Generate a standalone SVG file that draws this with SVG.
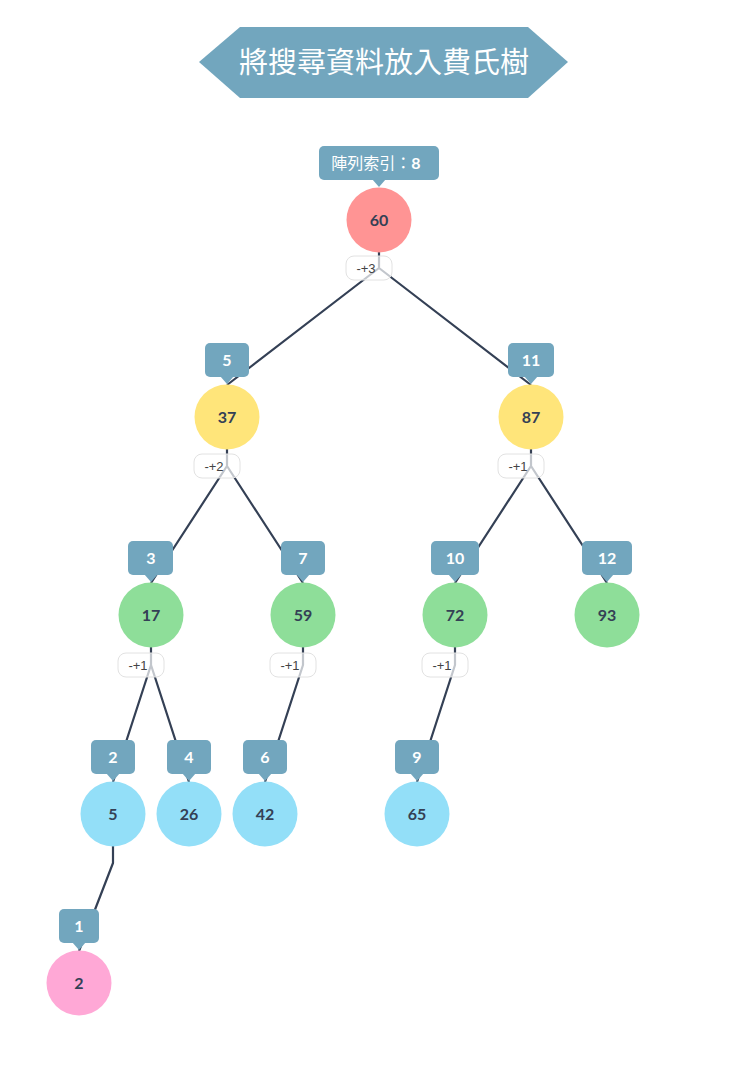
<svg xmlns="http://www.w3.org/2000/svg" width="736" height="1068" viewBox="0 0 736 1068">
<style>
.edge{fill:none;stroke:#344055;stroke-width:2.2;stroke-linejoin:round}
.nv{font-family:Lato,"Noto Sans",sans-serif;font-weight:bold;font-size:16px;fill:#344055;text-anchor:middle}
.tag{fill:#72A6BE}
.tt{font-family:Lato,"Noto Sans","Noto Sans CJK TC",sans-serif;font-weight:bold;font-size:16px;fill:#fff;text-anchor:middle}
.el{fill:#fff;fill-opacity:0.7;stroke:#e2e2e2;stroke-width:1}
.et{font-family:"Liberation Sans",Arial,sans-serif;font-size:13px;fill:#444;text-anchor:middle}
.red{fill:#FF9494}.yel{fill:#FFE57A}.grn{fill:#8EDE99}.blu{fill:#93DFF8}.pnk{fill:#FFA8D6}
</style>
<g id="title">
<polygon points="199,62 240,27 528,27 568,62 528,98 240,98" fill="#72A6BE"/>
<text x="384" y="73" font-family="'Noto Sans CJK TC','Noto Sans CJK SC',sans-serif" font-size="29" fill="#fff" text-anchor="middle">將搜尋資料放入費氏樹</text>
</g>
<g id="connectors">
<path class="edge" d="M379,252 V268 L227,385 M379,268 L531,385"/>
<path class="edge" d="M227,449 V466 L151,583 M227,466 L303,583"/>
<path class="edge" d="M531,449 V466 L455,583 M531,466 L607,583"/>
<path class="edge" d="M151,647 V665 L113,782 M151,665 L189,782"/>
<path class="edge" d="M303,647 V665 L265,782"/>
<path class="edge" d="M455,647 V665 L417,782"/>
<path class="edge" d="M113,846 V863 L79,951"/>
</g>
<g id="edge-labels">
<rect class="el" x="346" y="256" width="46" height="24" rx="8"/><text class="et" x="366" y="273">-+3</text>
<rect class="el" x="194" y="454" width="46" height="24" rx="8"/><text class="et" x="214" y="471">-+2</text>
<rect class="el" x="498" y="454" width="46" height="24" rx="8"/><text class="et" x="518" y="471">-+1</text>
<rect class="el" x="118" y="653" width="46" height="24" rx="8"/><text class="et" x="138" y="670">-+1</text>
<rect class="el" x="270" y="653" width="46" height="24" rx="8"/><text class="et" x="290" y="670">-+1</text>
<rect class="el" x="422" y="653" width="46" height="24" rx="8"/><text class="et" x="442" y="670">-+1</text>
</g>
<g id="n60"><circle class="red" cx="379" cy="220" r="32.5"/><text class="nv" x="379" y="226">60</text>
<rect class="tag" x="319" y="146" width="120" height="34" rx="5"/><polygon class="tag" points="372,179 386,179 379,187"/><text x="376" y="169" font-family="'Noto Sans CJK TC','Noto Sans CJK SC',sans-serif" font-size="16" fill="#fff" text-anchor="middle">陣列索引：<tspan font-family="Lato,'Noto Sans',sans-serif" font-weight="bold">8</tspan></text></g>
<g id="n37"><circle class="yel" cx="227" cy="417" r="32.5"/><text class="nv" x="227" y="423">37</text>
<rect class="tag" x="205" y="343" width="44" height="34" rx="5"/><polygon class="tag" points="220,376 234,376 227,384"/><text class="tt" x="227" y="366">5</text></g>
<g id="n87"><circle class="yel" cx="531" cy="417" r="32.5"/><text class="nv" x="531" y="423">87</text>
<rect class="tag" x="508" y="343" width="46" height="34" rx="5"/><polygon class="tag" points="524,376 538,376 531,384"/><text class="tt" x="531" y="366">11</text></g>
<g id="n17"><circle class="grn" cx="151" cy="615" r="32.5"/><text class="nv" x="151" y="621">17</text>
<rect class="tag" x="128" y="541" width="45" height="34" rx="5"/><polygon class="tag" points="144,574 158,574 151,582"/><text class="tt" x="151" y="564">3</text></g>
<g id="n59"><circle class="grn" cx="303" cy="615" r="32.5"/><text class="nv" x="303" y="621">59</text>
<rect class="tag" x="281" y="541" width="44" height="34" rx="5"/><polygon class="tag" points="296,574 310,574 303,582"/><text class="tt" x="303" y="564">7</text></g>
<g id="n72"><circle class="grn" cx="455" cy="615" r="32.5"/><text class="nv" x="455" y="621">72</text>
<rect class="tag" x="431" y="541" width="48" height="34" rx="5"/><polygon class="tag" points="448,574 462,574 455,582"/><text class="tt" x="455" y="564">10</text></g>
<g id="n93"><circle class="grn" cx="607" cy="615" r="32.5"/><text class="nv" x="607" y="621">93</text>
<rect class="tag" x="582" y="541" width="50" height="34" rx="5"/><polygon class="tag" points="600,574 614,574 607,582"/><text class="tt" x="607" y="564">12</text></g>
<g id="n5"><circle class="blu" cx="113" cy="814" r="32.5"/><text class="nv" x="113" y="820">5</text>
<rect class="tag" x="91" y="740" width="44" height="34" rx="5"/><polygon class="tag" points="106,773 120,773 113,781"/><text class="tt" x="113" y="763">2</text></g>
<g id="n26"><circle class="blu" cx="189" cy="814" r="32.5"/><text class="nv" x="189" y="820">26</text>
<rect class="tag" x="167" y="740" width="44" height="34" rx="5"/><polygon class="tag" points="182,773 196,773 189,781"/><text class="tt" x="189" y="763">4</text></g>
<g id="n42"><circle class="blu" cx="265" cy="814" r="32.5"/><text class="nv" x="265" y="820">42</text>
<rect class="tag" x="243" y="740" width="44" height="34" rx="5"/><polygon class="tag" points="258,773 272,773 265,781"/><text class="tt" x="265" y="763">6</text></g>
<g id="n65"><circle class="blu" cx="417" cy="814" r="32.5"/><text class="nv" x="417" y="820">65</text>
<rect class="tag" x="395" y="740" width="44" height="34" rx="5"/><polygon class="tag" points="410,773 424,773 417,781"/><text class="tt" x="417" y="763">9</text></g>
<g id="n2"><circle class="pnk" cx="79" cy="983" r="32.5"/><text class="nv" x="79" y="989">2</text>
<rect class="tag" x="59" y="909" width="40" height="34" rx="5"/><polygon class="tag" points="72,942 86,942 79,950"/><text class="tt" x="79" y="932">1</text></g>
</svg>
